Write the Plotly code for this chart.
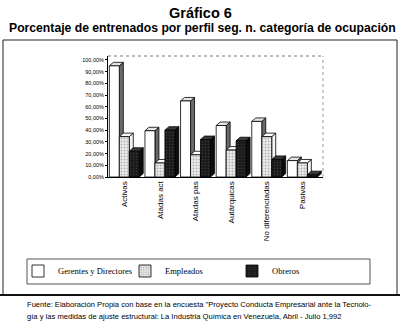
import plotly.graph_objects as go

# ---- data ----
categories = ["Activas", "Atadas act", "Atadas pas", "Autárquicas", "No diferenciadas", "Pasivas"]
series_names = ["Gerentes y Directores", "Empleados", "Obreros"]
gerentes = [0.95, 0.395, 0.65, 0.44, 0.475, 0.14]
empleados = [0.345, 0.12, 0.19, 0.23, 0.345, 0.12]
obreros = [0.22, 0.40, 0.32, 0.31, 0.15, 0.02]
y_ticks = [0.0, 0.1, 0.2, 0.3, 0.4, 0.5, 0.6, 0.7, 0.8, 0.9, 1.0]

title_1 = "Gráfico 6"
title_2 = "Porcentaje de entrenados por perfil seg. n. categoría de ocupación"
source_1 = "Fuente: Elaboración Propia con base en la encuesta \"Proyecto Conducta Empresarial ante la Tecnolo-"
source_2 = "gía y las medidas de ajuste estructural: La Industria Química en Venezuela, Abril - Julio 1,992"

# ---- geometry (pixels of the 400x323 canvas) ----
W, H = 400, 323
PL, PR, PT, PB = 108, 323, 56, 177
XR = [-0.458, 5.58]
YR = [0, 1.034]


def px_x(p):
    return (p - PL) / (PR - PL)


def px_y(p):
    return (PB - p) / (PB - PT)


bargap = 0.16
bw = (1 - bargap) / 3
dx = 4 / ((PR - PL) / (XR[1] - XR[0]))
dy = 3.5 / ((PB - PT) / (YR[1] - YR[0]))

front = ["white", "#d9d9d9", "#1e1e1e"]
side = ["#6a6a6a", "#f4f4f4", "#0c0c0c"]
top = ["#e4e4e4", "#ffffff", "#3a3a3a"]

fig = go.Figure()
all_vals = [gerentes, empleados, obreros]
patterns = [
    dict(shape=""),
    dict(shape=".", fgcolor="#777777", bgcolor="#ececec", size=3, solidity=0.35),
    dict(shape=".", fgcolor="#555555", bgcolor="#1a1a1a", size=3, solidity=0.2),
]
for j, (name, vals) in enumerate(zip(series_names, all_vals)):
    fig.add_trace(go.Bar(
        x=categories, y=vals, name=name,
        marker=dict(color=front[j], line=dict(color="black", width=0.8), pattern=patterns[j]),
    ))

shapes = []
for j, vals in enumerate(all_vals):
    for i, v in enumerate(vals):
        x0 = i + (j - 1.5) * bw
        x1 = x0 + bw
        # side face
        shapes.append(dict(
            type="path", xref="x", yref="y", layer="below",
            path=f"M{x1},0 L{x1 + dx},{dy} L{x1 + dx},{v + dy} L{x1},{v} Z",
            fillcolor=side[j], line=dict(color="black", width=0.8)))
        # top face
        shapes.append(dict(
            type="path", xref="x", yref="y", layer="below",
            path=f"M{x0},{v} L{x0 + dx},{v + dy} L{x1 + dx},{v + dy} L{x1},{v} Z",
            fillcolor=top[j], line=dict(color="black", width=0.8)))

# plot frame (top/right)
shapes.append(dict(type="line", xref="paper", yref="paper", x0=0, x1=1, y0=1, y1=1,
                   line=dict(color="#7a7a7a", width=1, dash="dot")))
shapes.append(dict(type="line", xref="paper", yref="paper", x0=1, x1=1, y0=0, y1=1,
                   line=dict(color="#9a9a9a", width=1, dash="dot")))
# outer box
shapes.append(dict(type="rect", xref="paper", yref="paper",
                   x0=px_x(3), x1=px_x(397), y0=px_y(295), y1=px_y(40),
                   line=dict(color="#222222", width=1)))
shapes.append(dict(type="line", xref="paper", yref="paper",
                   x0=px_x(0), x1=px_x(400), y0=px_y(295), y1=px_y(295),
                   line=dict(color="#111111", width=2)))
# legend box
shapes.append(dict(type="rect", xref="paper", yref="paper",
                   x0=px_x(27), x1=px_x(370), y0=px_y(284), y1=px_y(259),
                   line=dict(color="#555555", width=1)))

annotations = [
    dict(text=f"<b>{title_1}</b>", xref="paper", yref="paper", x=px_x(200), y=px_y(13.5),
         xanchor="center", yanchor="middle", showarrow=False,
         font=dict(family="Liberation Sans, Arial", size=14.5, color="black")),
    dict(text=f"<b>{title_2}</b>", xref="paper", yref="paper", x=px_x(202), y=px_y(28.5),
         xanchor="center", yanchor="middle", showarrow=False,
         font=dict(family="Liberation Sans, Arial", size=12.2, color="black")),
    dict(text=source_1, xref="paper", yref="paper", x=px_x(25), y=px_y(304),
         xanchor="left", yanchor="middle", showarrow=False,
         font=dict(family="Liberation Sans, Arial", size=7.6, color="black")),
    dict(text=source_2, xref="paper", yref="paper", x=px_x(25), y=px_y(316),
         xanchor="left", yanchor="middle", showarrow=False,
         font=dict(family="Liberation Sans, Arial", size=7.6, color="black")),
]

fig.update_layout(
    width=W, height=H,
    margin=dict(l=PL, r=W - PR, t=PT, b=H - PB, pad=0),
    barmode="group", bargap=bargap, bargroupgap=0,
    paper_bgcolor="white", plot_bgcolor="white",
    separators=",.",
    showlegend=True,
    legend=dict(orientation="h", x=px_x(18), y=px_y(271), xanchor="left", yanchor="middle",
                entrywidth=62, entrywidthmode="pixels", itemwidth=30,
                font=dict(family="Liberation Serif, Times New Roman", size=8.5, color="black"),
                bgcolor="rgba(0,0,0,0)", borderwidth=0, traceorder="normal"),
    shapes=shapes,
    annotations=annotations,
    font=dict(family="Liberation Sans, Arial", color="black"),
)
fig.update_xaxes(range=XR, showgrid=False, showline=True, linecolor="black", linewidth=1,
                 tickangle=-90, tickfont=dict(size=8, family="Liberation Sans, Arial"),
                 ticks="", zeroline=False)
fig.update_yaxes(range=YR, tickvals=y_ticks, tickformat=".2%", showgrid=False,
                 showline=True, linecolor="black", linewidth=1, ticks="outside", ticklen=2,
                 tickcolor="black", tickfont=dict(size=5.5, family="Liberation Sans, Arial"),
                 zeroline=False)

fig.write_html("out.html")
